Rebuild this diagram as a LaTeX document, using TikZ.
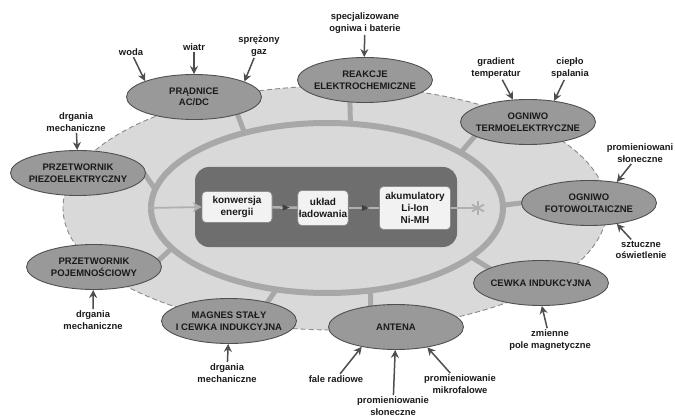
\documentclass[tikz,border=0pt]{standalone}
\usepackage{fontspec}
\setmainfont{Liberation Sans}
\usetikzlibrary{shapes.geometric,arrows.meta,decorations.markings,calc}
\definecolor{bgfill}{HTML}{D9D9D9}
\definecolor{bgedge}{HTML}{8A8A8A}
\definecolor{ellfill}{HTML}{999999}
\definecolor{elledge}{HTML}{505050}
\definecolor{ringcol}{HTML}{A8A8A8}
\definecolor{corecol}{HTML}{6E6E6E}
\definecolor{boxfill}{HTML}{F2F2F2}
\definecolor{boxedge}{HTML}{8C8C8C}
\definecolor{txtcol}{HTML}{1A1A1A}
\definecolor{arrcol}{HTML}{4E4E4E}
\definecolor{flowcol}{HTML}{B0B0B0}
\pgfdeclarelayer{bglow}
\pgfdeclarelayer{bgmid}
\pgfsetlayers{bglow,bgmid,main}
\begin{document}
\begin{tikzpicture}[x=1pt,y=-1pt,
  ell/.style={ellipse, draw=elledge, line width=0.9pt, fill=ellfill,
    minimum width=135pt, minimum height=45pt, inner sep=0pt},
  etext/.style={font=\bfseries\fontsize{9.5}{11.5}\selectfont, align=center, text=txtcol, inner sep=0pt},
  lbl/.style={font=\bfseries\fontsize{9.4}{11.5}\selectfont, align=center, text=txtcol, inner sep=1.5pt},
  feed/.style={draw=arrcol, line width=1.5pt, -{Stealth[length=8pt,width=8pt]}},
  spoke/.style={draw=ringcol, line width=5pt, shorten <=-4pt, shorten >=-4pt},
  box/.style={draw=boxedge, fill=boxfill, rounded corners=4pt, line width=0.7pt,
    font=\bfseries\fontsize{10}{11.8}\selectfont, align=center, text=txtcol, inner sep=1pt},
  flow/.style={draw=flowcol, line width=2.5pt, postaction={decorate},
    decoration={markings, mark=at position 0.55 with {\fill[black!75] (-3.5pt,-3pt) -- (3.5pt,0pt) -- (-3.5pt,3pt) -- cycle;}}}
]
\useasboundingbox (0,0) rectangle (675,417);

% outer light region
\begin{pgfonlayer}{bglow}
\node[ellipse, draw=bgedge, fill=bgfill, line width=0.9pt, dash pattern=on 5pt off 3pt,
  minimum width=544pt, minimum height=244pt] (outer) at (335,208) {};
\end{pgfonlayer}

% inner ring
\node[ellipse, draw=ringcol, line width=6pt, minimum width=352pt, minimum height=170pt] (ring) at (327,208) {};

% core
\node[fill=corecol, rounded corners=14pt, minimum width=262pt, minimum height=80pt] (core) at (326,207) {};
\node[box, minimum width=70pt, minimum height=31pt] (konw) at (237,207) {konwersja\\energii};
\node[box, minimum width=50pt, minimum height=35pt] (ukl) at (323,208) {układ\\ładowania};
\node[box, minimum width=71pt, minimum height=43pt] (aku) at (415,208) {akumulatory\\Li-Ion\\Ni-MH};
\draw[flow] (konw) -- (ukl);
\draw[flow] (ukl) -- (aku);
\draw[draw=flowcol, line width=1.8pt, -{Stealth[length=9pt,width=10pt]}] (ring.180) -- (konw.west);
\coordinate (ast) at (478,208);
\draw[draw=flowcol, line width=2.5pt] (aku.east) -- (ast);
\foreach \a in {90,30,150} {
  \draw[draw=flowcol, line width=1.8pt] ($(ast)+(\a:7pt)$) -- ($(ast)+(\a+180:7pt)$);
}

% source ellipses
\node[ell] (prad) at (194,97) {};
\node[etext] (pradt) at (prad) {PRĄDNICE\\AC/DC};
\node[ell] (reak) at (365,80) {};
\node[etext] (reakt) at (reak) {REAKCJE\\ELEKTROCHEMICZNE};
\node[ell] (termo) at (528,122) {};
\node[etext] (termot) at (termo) {OGNIWO\\TERMOELEKTRYCZNE};
\node[ell] (foto) at (589,203) {};
\node[etext] (fotot) at (foto) {OGNIWO\\FOTOWOLTAICZNE};
\node[ell] (cewka) at (541,283) {};
\node[etext] (cewkat) at (cewka) {CEWKA INDUKCYJNA};
\node[ell] (antena) at (396,327) {};
\node[etext] (antenat) at (antena) {ANTENA};
\node[ell] (magnes) at (229,321) {};
\node[etext] (magnest) at (magnes) {MAGNES STAŁY\\I CEWKA INDUKCYJNA};
\node[ell] (pojem) at (94,267) {};
\node[etext] (pojemt) at (pojem) {PRZETWORNIK\\POJEMNOŚCIOWY};
\node[ell] (piezo) at (78,173) {};
\node[etext] (piezot) at (piezo) {PRZETWORNIK\\PIEZOELEKTRYCZNY};

% spokes
\begin{pgfonlayer}{bgmid}
\draw[spoke] (prad.-22) -- (ring.137);
\draw[spoke] (reak.-124) -- (ring.75);
\draw[spoke] (termo.195) -- (ring.23);
\draw[spoke] (foto.180) -- (ring.1);
\draw[spoke] (cewka.164) -- (ring.-19);
\draw[spoke] (antena.140) -- (ring.-63);
\draw[spoke] (magnes.26) -- (ring.-122);
\draw[spoke] (pojem.6) -- (ring.-165);
\draw[spoke] (piezo.-2) -- (ring.173);
\end{pgfonlayer}

% labels
\node[lbl] (woda) at (131,52) {woda};
\node[lbl] (wiatr) at (194,47) {wiatr};
\node[lbl] (gaz) at (259,46) {sprężony\\gaz};
\node[lbl] (spec) at (365,23) {specjalizowane\\ogniwa i baterie};
\node[lbl] (grad) at (496,68) {gradient\\temperatur};
\node[lbl] (ciep) at (570,68) {ciepło\\spalania};
\node[lbl] (promA) at (640,153) {promieniowani\\słoneczne};
\node[lbl] (szt) at (641,250) {sztuczne\\oświetlenie};
\node[lbl] (zmien) at (550,340) {zmienne\\pole magnetyczne};
\node[lbl] (mikro) at (460,384) {promieniowanie\\mikrofalowe};
\node[lbl] (slon) at (393,406) {promieniowanie\\słoneczne};
\node[lbl] (fale) at (336,379) {fale radiowe};
\node[lbl] (drgA) at (227,373) {drgania\\mechaniczne};
\node[lbl] (drgB) at (93,320) {drgania\\mechaniczne};
\node[lbl] (drgC) at (76,122) {drgania\\mechaniczne};

% feed arrows
\draw[feed] (woda) -- (prad.162);
\draw[feed] (wiatr) -- (prad.90);
\draw[feed] (gaz) -- (prad.17);
\draw[feed] (spec) -- (reak.92);
\draw[feed] (grad) -- (termo.124);
\draw[feed] (ciep) -- (termo.39);
\draw[feed] (promA) -- (foto.37);
\draw[feed] (szt) -- (foto.-37);
\draw[feed] (zmien) -- (cewka.-88);
\draw[feed] (mikro) -- (antena.-33);
\draw[feed] (slon) -- (antena.-92);
\draw[feed] (fale) -- (antena.-150);
\draw[feed] (drgA) -- (magnes.-92);
\draw[feed] (drgB) -- (pojem.-92);
\draw[feed] (drgC) -- (piezo.92);
\end{tikzpicture}
\end{document}
